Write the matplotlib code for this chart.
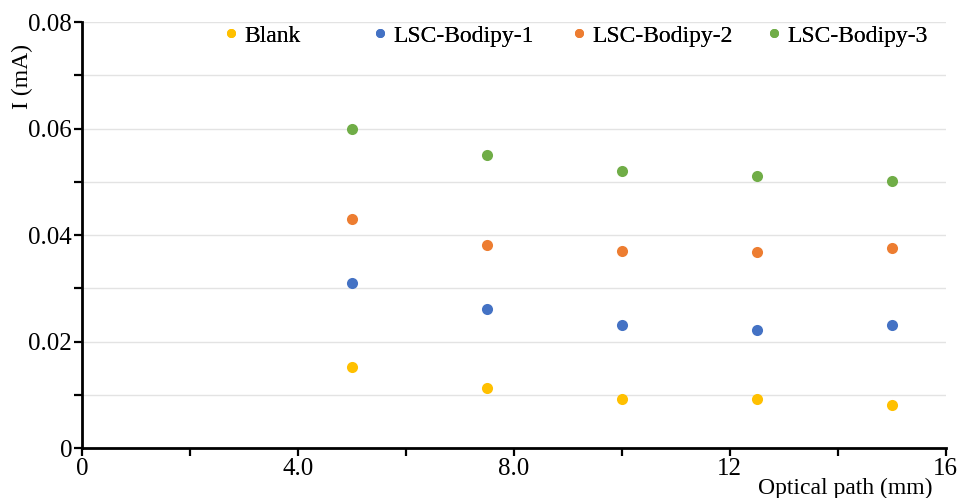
import numpy as np
import matplotlib
matplotlib.use('Agg')
import matplotlib.pyplot as plt
from matplotlib.lines import Line2D

plt.rcParams['font.family'] = ['Liberation Serif', 'DejaVu Serif']

# data
x_path = [5, 7.5, 10, 12.5, 15]
blank = [0.0152, 0.0112, 0.0092, 0.0092, 0.0081]
bodipy1 = [0.0310, 0.0261, 0.0231, 0.0222, 0.0231]
bodipy2 = [0.0430, 0.0381, 0.0370, 0.0368, 0.0376]
bodipy3 = [0.0600, 0.0550, 0.0520, 0.0511, 0.0501]

names = ['Blank', 'LSC-Bodipy-1', 'LSC-Bodipy-2', 'LSC-Bodipy-3']
colors = ['#FFC000', '#4472C4', '#ED7D31', '#70AD47']
series = [blank, bodipy1, bodipy2, bodipy3]

x_ticks = [0, 4, 8, 12, 16]
x_ticklabels = ['0', '4.0', '8.0', '12', '16']
y_ticks = [0, 0.02, 0.04, 0.06, 0.08]
y_ticklabels = ['0', '0.02', '0.04', '0.06', '0.08']

fig = plt.figure(figsize=(9.64, 4.98), dpi=100)
ax = fig.add_axes([0.085, 0.1004, 0.896, 0.8554])

for ys, c in zip(series, colors):
    ax.plot(x_path, ys, 'o', color=c, markersize=8, markeredgewidth=0, zorder=3)

ax.set_xlim(0, 16)
ax.set_ylim(0, 0.08)
ax.set_xticks(x_ticks)
ax.set_xticklabels(x_ticklabels)
ax.set_xticks(np.arange(2, 16, 4), minor=True)
ax.set_yticks(y_ticks)
ax.set_yticklabels(y_ticklabels)
ax.set_yticks(np.arange(0.01, 0.08, 0.02), minor=True)

for yv in np.arange(0.01, 0.081, 0.01):
    ax.axhline(yv, color='#E3E3E3', linewidth=1.0, zorder=1)

for s in ['top', 'right']:
    ax.spines[s].set_visible(False)
for s in ['left', 'bottom']:
    ax.spines[s].set_linewidth(2.0)
    ax.spines[s].set_color('black')
    ax.spines[s].set_zorder(4)

ax.tick_params(which='both', direction='out', length=6, width=1.6, labelsize=18, pad=1)

fig.text(0.023, 0.847, 'I (mA)', rotation=90, ha='center', va='center', fontsize=17)
fig.text(0.877, 0.02, 'Optical path (mm)', ha='center', va='center', fontsize=17)

# legend entries placed across the top
leg_x = [0.234, 0.388, 0.595, 0.797]
for name, c, lx in zip(names, colors, leg_x):
    h = Line2D([], [], marker='o', linestyle='none', color=c, markersize=6.5, markeredgewidth=0)
    lg = fig.legend([h], [name], loc='center left', bbox_to_anchor=(lx, 0.928),
                    frameon=False, fontsize=17, handlelength=0.5, handletextpad=0.3,
                    borderpad=0, borderaxespad=0)
    fig.add_artist(lg)

fig.savefig('out.png', dpi=100)
